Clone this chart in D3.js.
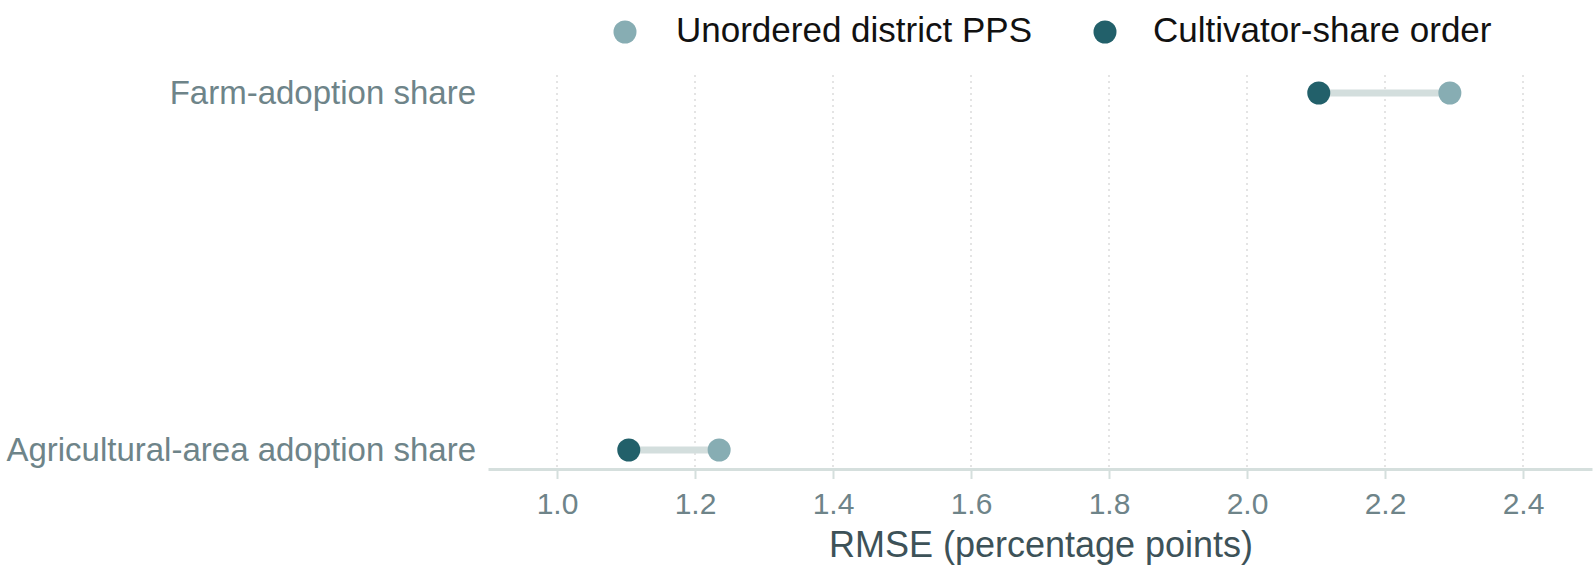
<!DOCTYPE html>
<html>
<head>
    <meta charset="utf-8">
    <title>RMSE dumbbell</title>
    <script src="https://d3js.org/d3.v7.min.js"></script>
    <style>
        body { margin: 0; background: #fff; }
        text { font-family: "Liberation Sans", Arial, sans-serif; }
    </style>
</head>

<body>
<div id="chart"></div>
<script type="text/javascript">

    // data
    let outcomes = ["Farm-adoption share", "Agricultural-area adoption share"];
    let unorderedPPS = [2.294, 1.235];
    let cultivatorOrder = [2.104, 1.104];
    let seriesNames = ["Unordered district PPS", "Cultivator-share order"];
    let xTicks = [1.0, 1.2, 1.4, 1.6, 1.8, 2.0, 2.2, 2.4];

    let W = 1594, H = 571;
    let colLight = "#87adb3", colDark = "#22606a";

    let svg = d3.select("#chart")
        .append("svg")
            .attr("width", W)
            .attr("height", H);

    let xScale = d3.scaleLinear()
        .domain([0.9, 2.5])
        .range([488, 1592]);

    let yScale = d3.scalePoint()
        .domain(outcomes)
        .range([93, 450]);

    let axisY = 469;

    // dotted vertical grid
    svg.append("g")
        .selectAll("line")
        .data(xTicks)
        .enter()
        .append("line")
        .attr("x1", d => xScale(d))
        .attr("x2", d => xScale(d))
        .attr("y1", 75)
        .attr("y2", axisY)
        .attr("stroke", "#dcdcdc")
        .attr("stroke-width", 1.5)
        .attr("stroke-dasharray", "2,4");

    // bottom axis
    let xAxis = d3.axisBottom(xScale)
        .tickValues(xTicks)
        .tickFormat(d3.format(".1f"))
        .tickSizeInner(10)
        .tickSizeOuter(0)
        .tickPadding(14);

    let gx = svg.append("g")
        .attr("transform", "translate(0," + axisY + ")")
        .call(xAxis);
    gx.select(".domain")
        .attr("stroke", "#d5dfdd")
        .attr("stroke-width", 3);
    gx.selectAll(".tick line")
        .attr("stroke", "#d5dfdd")
        .attr("stroke-width", 2);
    gx.selectAll(".tick text")
        .attr("fill", "#6e8489")
        .attr("font-size", "30px")
        .attr("font-family", "Liberation Sans, Arial, sans-serif");

    svg.append("text")
        .attr("x", 1041)
        .attr("y", 557)
        .attr("text-anchor", "middle")
        .attr("font-size", "36px")
        .attr("fill", "#3d5258")
        .text("RMSE (percentage points)");

    // category labels
    svg.append("g")
        .selectAll("text")
        .data(outcomes)
        .enter()
        .append("text")
        .attr("x", 476)
        .attr("y", d => yScale(d) + 11)
        .attr("text-anchor", "end")
        .attr("font-size", "33px")
        .attr("fill", "#6e8489")
        .text(d => d);

    // connecting segments
    svg.append("g")
        .selectAll("line")
        .data(outcomes)
        .enter()
        .append("line")
        .attr("x1", (d, i) => xScale(cultivatorOrder[i]))
        .attr("x2", (d, i) => xScale(unorderedPPS[i]))
        .attr("y1", d => yScale(d))
        .attr("y2", d => yScale(d))
        .attr("stroke", "#d3dedd")
        .attr("stroke-width", 7);

    svg.append("g")
        .selectAll("circle")
        .data(outcomes)
        .enter()
        .append("circle")
        .attr("cx", (d, i) => xScale(unorderedPPS[i]))
        .attr("cy", d => yScale(d))
        .attr("r", 11.5)
        .attr("fill", colLight);

    svg.append("g")
        .selectAll("circle")
        .data(outcomes)
        .enter()
        .append("circle")
        .attr("cx", (d, i) => xScale(cultivatorOrder[i]))
        .attr("cy", d => yScale(d))
        .attr("r", 11.5)
        .attr("fill", colDark);

    // legend
    let legendPos = [{dot: 625, text: 676}, {dot: 1105, text: 1153}];
    let legend = svg.append("g")
        .selectAll("g")
        .data(seriesNames)
        .enter()
        .append("g");
    legend.append("circle")
        .attr("cx", (d, i) => legendPos[i].dot)
        .attr("cy", 32)
        .attr("r", 11.5)
        .attr("fill", (d, i) => i == 0 ? colLight : colDark);
    legend.append("text")
        .attr("x", (d, i) => legendPos[i].text)
        .attr("y", 42)
        .attr("font-size", "35px")
        .attr("fill", "#111")
        .text(d => d);

</script>
</body>
</html>
